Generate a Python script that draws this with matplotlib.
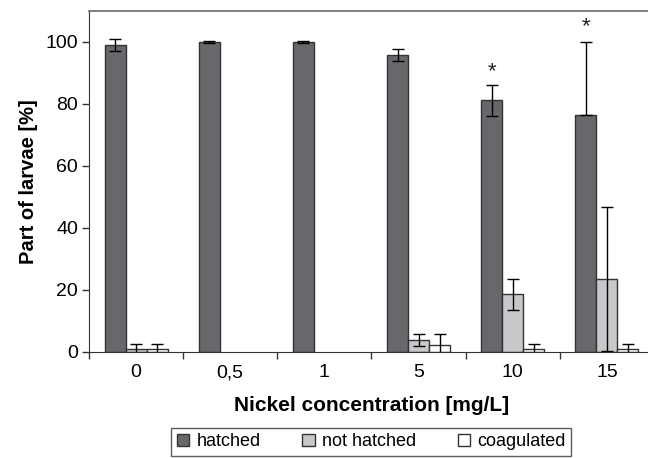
import numpy as np
import matplotlib
matplotlib.use("Agg")
from matplotlib import pyplot as plt
from matplotlib.patches import Patch

plt.rcParams['font.family'] = ['Liberation Sans', 'DejaVu Sans']

concentrations = ["0", "0,5", "1", "5", "10", "15"]
series_names = ["hatched", "not hatched", "coagulated"]

nan = np.nan
hatched = [99.0, 100.0, 100.0, 95.7, 81.2, 76.5]
hatched_err_low = [1.8, 0.3, 0.3, 1.9, 5.2, 0.0]
hatched_err_high = [1.8, 0.3, 0.3, 1.9, 5.0, 23.5]

# nothing recorded for 0,5 and 1 mg/L
not_hatched = [0.9, nan, nan, 3.7, 18.5, 23.4]
not_hatched_err = [1.6, nan, nan, 1.9, 5.0, 23.3]

coagulated = [0.9, nan, nan, 2.0, 0.7, 0.7]
coagulated_err = [1.6, nan, nan, 3.8, 1.8, 1.8]

star_positions = [4, 5]
star_heights = [90.5, 105.0]

colors = ["#67686c", "#c7c8ca", "#ffffff"]
edge = "#333333"

fig = plt.figure(figsize=(6.48, 4.58), dpi=100)
ax = fig.add_axes([89 / 648, 1 - 351.5 / 458, 565 / 648, 340.5 / 458])

x = np.arange(len(concentrations))
w = 0.223
err_kw = dict(ecolor="black", elinewidth=1.0, capsize=4.3, capthick=1.0)

ax.bar(x - w, hatched, w, color=colors[0], edgecolor=edge, linewidth=1.0,
       yerr=[hatched_err_low, hatched_err_high], error_kw=err_kw)
ax.bar(x, not_hatched, w, color=colors[1], edgecolor=edge, linewidth=1.0,
       yerr=[not_hatched_err, not_hatched_err], error_kw=err_kw)
ax.bar(x + w, coagulated, w, color=colors[2], edgecolor=edge, linewidth=1.0,
       yerr=[coagulated_err, coagulated_err], error_kw=err_kw)

for pos, h in zip(star_positions, star_heights):
    ax.text(x[pos] - w, h, "*", ha="center", va="center", fontsize=16, color="#222222")

ax.set_xlim(-0.5, len(concentrations) - 0.5)
ax.set_ylim(0, 110)
ax.set_yticks([0, 20, 40, 60, 80, 100])
ax.set_xticks(x)
ax.set_xticklabels(concentrations)
ax.set_xticks(np.arange(-0.5, len(concentrations)), minor=True)
ax.tick_params(axis="x", which="major", length=0, labelsize=14, pad=9)
ax.tick_params(axis="x", which="minor", length=5, width=1, direction="out", color="#333333")
ax.tick_params(axis="y", length=5, width=1, direction="out", labelsize=14, color="#333333", pad=3)

ax.spines["right"].set_visible(False)
ax.spines["top"].set_color("#6a6a6a")
ax.spines["top"].set_linewidth(1.2)
ax.spines["left"].set_color("#333333")
ax.spines["bottom"].set_color("#333333")

ax.set_xlabel("Nickel concentration [mg/L]", fontsize=15, fontweight="bold", labelpad=11)
ax.set_ylabel("Part of larvae [%]", fontsize=14.5, fontweight="bold", labelpad=5)

handles = [Patch(facecolor=c, edgecolor=edge, linewidth=1.0) for c in colors]
leg = fig.legend(handles, series_names, loc="upper center", bbox_to_anchor=(0.573, 0.0655),
                 ncol=3, fontsize=13, frameon=True, fancybox=False, edgecolor="#333333",
                 handlelength=0.7, handleheight=0.7, handletextpad=0.4, columnspacing=2.3,
                 borderpad=0.3, borderaxespad=0)
leg.get_frame().set_linewidth(1.0)

fig.savefig("out.png", dpi=100)
